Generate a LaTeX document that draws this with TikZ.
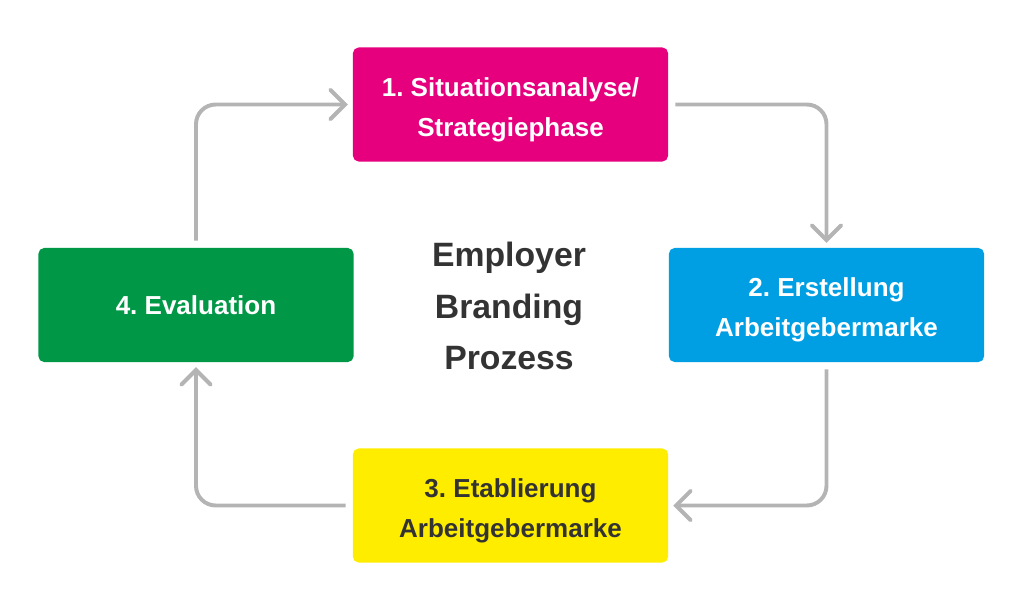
\documentclass[tikz,border=0pt]{standalone}
\usepackage{fontspec}
\setmainfont{Liberation Sans}
\frenchspacing
\usetikzlibrary{arrows.meta,positioning}
\definecolor{phaseMagenta}{HTML}{E6007E}
\definecolor{phaseBlue}{HTML}{009FE3}
\definecolor{phaseYellow}{HTML}{FFED00}
\definecolor{phaseGreen}{HTML}{009846}
\definecolor{cycleGray}{HTML}{B4B4B4}
\definecolor{darkText}{HTML}{333333}
\newcommand{\phasestrut}{\rule{0pt}{20.5pt}}
\tikzset{
  phase/.style   = {rectangle, rounded corners=4pt, minimum width=7.875cm,
                    minimum height=2.85cm, align=center, inner sep=0pt,
                    font=\bfseries\fontsize{18.5}{28.5}\selectfont, text=white},
  post/.style    = {-{Straight Barb[length=10.5pt,width=21pt,line cap=round]},
                    draw=cycleGray, line width=2.8pt, rounded corners=14pt,
                    shorten <=5pt, shorten >=3.5pt},
  title/.style   = {align=center, text=darkText,
                    font=\bfseries\fontsize{24}{36.5}\selectfont}
}
\begin{document}
\begin{tikzpicture}[x=0.025cm,y=-0.025cm]
      \useasboundingbox (0,0) rectangle (1025,600);
      \node[phase, fill=phaseMagenta] (situ) at (510.5,104.5) {\phasestrut 1. Situationsanalyse/\\Strategiephase};
      \node[phase, fill=phaseBlue] (erst) at (826.5,305) {\phasestrut 2. Erstellung\\Arbeitgebermarke};
      \node[phase, fill=phaseYellow, text=darkText] (etab) at (510.5,505.5) {\phasestrut 3. Etablierung\\Arbeitgebermarke};
      \node[phase, fill=phaseGreen] (eval) at (196,305) {4. Evaluation};
      \node[title] (proc) at (509,306) {Employer\\Branding\\Prozess};
      \draw[post] (eval.north) |- (situ.west);
      \draw[post] (situ.east) -| (erst.north);
      \draw[post] (erst.south) |- (etab.east);
      \draw[post] (etab.west) -| (eval.south);
    \end{tikzpicture}
\end{document}
